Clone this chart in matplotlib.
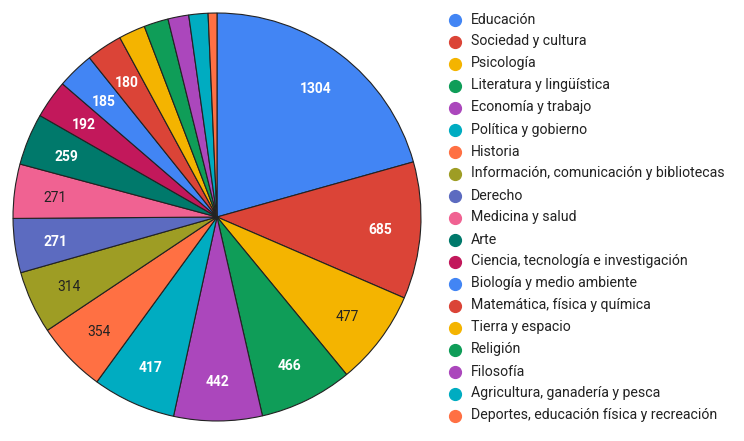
import numpy as np
import matplotlib.pyplot as plt
from matplotlib.lines import Line2D

# ── datos ──
categories = [
    "Educación", "Sociedad y cultura", "Psicología", "Literatura y lingüística",
    "Economía y trabajo", "Política y gobierno", "Historia",
    "Información, comunicación y bibliotecas", "Derecho", "Medicina y salud",
    "Arte", "Ciencia, tecnología e investigación", "Biología y medio ambiente",
    "Matemática, física y química", "Tierra y espacio", "Religión", "Filosofía",
    "Agricultura, ganadería y pesca", "Deportes, educación física y recreación",
]
values = [1304, 685, 477, 466, 442, 417, 354, 314, 271, 271, 259, 192, 185, 180,
          133, 122, 104, 96, 44]

palette = ["#4285f4", "#db4437", "#f4b400", "#0f9d58", "#ab47bc", "#00acc1",
           "#ff7043", "#9e9d24", "#5c6bc0", "#f06292", "#00796b", "#c2185b"]
colors = [palette[i % len(palette)] for i in range(len(values))]
dark_text = {"#f4b400", "#ff7043", "#9e9d24", "#f06292"}

plt.rcParams["font.family"] = ["Roboto", "DejaVu Sans"]

W, H = 744, 441
fig = plt.figure(figsize=(W / 100, H / 100), dpi=100)
cx, cy, r = 217, 217, 205
ax = fig.add_axes([(cx - r) / W, (H - cy - r) / H, 2 * r / W, 2 * r / H])

wedges, _ = ax.pie(values, colors=colors, startangle=90, counterclock=False,
                   wedgeprops=dict(edgecolor="#222222", linewidth=0.8))
ax.set_xlim(-1.005, 1.005)
ax.set_ylim(-1.005, 1.005)
ax.set_aspect("equal")
ax.axis("off")

# etiquetas de valores (solo porciones grandes)
total = sum(values)
for w, v, c in zip(wedges, values, colors):
    if v / total < 0.025:
        continue
    ang = np.deg2rad((w.theta1 + w.theta2) / 2)
    x, y = 0.8 * np.cos(ang), 0.8 * np.sin(ang) - 0.01
    if c in dark_text:
        ax.text(x, y, str(v), ha="center", va="center", fontsize=10, color="#222222")
    else:
        ax.text(x, y, str(v), ha="center", va="center", fontsize=10,
                color="white", fontweight="bold")

# leyenda
for i, (name, c) in enumerate(zip(categories, colors)):
    y = 1 - (19.5 + 22 * i) / H
    fig.add_artist(Line2D([455 / W], [y], marker="o", markersize=8.5,
                          color=c, linestyle="none", transform=fig.transFigure))
    fig.text(471 / W, y, name, ha="left", va="center", fontsize=10.2, color="#222222")

fig.savefig("out.png", dpi=100)
